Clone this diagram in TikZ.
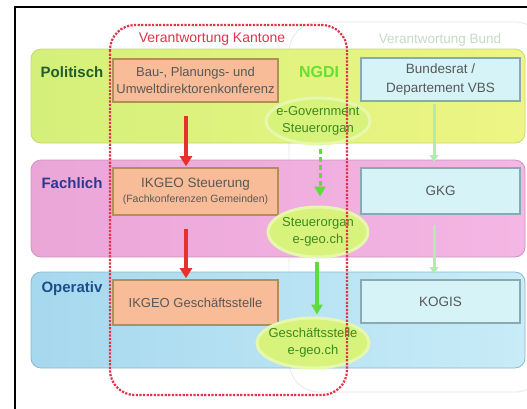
\documentclass[tikz,border=0pt]{standalone}
\usepackage{fontspec}
\setmainfont{Liberation Sans}
\usetikzlibrary{shapes.geometric,arrows.meta}
\definecolor{polL}{HTML}{D4F07A}
\definecolor{polR}{HTML}{EEF584}
\definecolor{polB}{HTML}{C4D870}
\definecolor{fachL}{HTML}{EBA6D8}
\definecolor{fachR}{HTML}{F4B6E4}
\definecolor{fachB}{HTML}{CC94BC}
\definecolor{opL}{HTML}{A6D8EE}
\definecolor{opR}{HTML}{C8ECF8}
\definecolor{opB}{HTML}{8CB8CA}
\definecolor{orF}{HTML}{F8BD98}
\definecolor{orD}{HTML}{B09058}
\definecolor{blF}{HTML}{D6F3F8}
\definecolor{blD}{HTML}{8AAAB2}
\definecolor{txt}{HTML}{585858}
\definecolor{kRed}{HTML}{E0344A}
\definecolor{aRed}{HTML}{E8302E}
\definecolor{gArr}{HTML}{5EDC38}
\definecolor{gLight}{HTML}{B2EAB0}
\definecolor{ellF}{HTML}{D8F37C}
\definecolor{ellG}{HTML}{E6F8AE}
\definecolor{ellT}{HTML}{3C8A1C}
\definecolor{ngdiC}{HTML}{66E033}
\definecolor{bundC}{HTML}{C6DAC6}
\definecolor{polT}{HTML}{1F5E2A}
\definecolor{fachT}{HTML}{2B3990}
\definecolor{opT}{HTML}{1B4F8F}
\tikzset{
  orangebox/.style={draw=orD, line width=1.6pt, fill=orF, align=center, text=txt,
    font=\fontsize{13}{17}\selectfont, minimum width=165pt, inner sep=0pt},
  bluebox/.style={draw=blD, line width=1.6pt, fill=blF, align=center, text=txt,
    font=\fontsize{13.5}{19}\selectfont, minimum width=159pt, inner sep=0pt},
  ell/.style={ellipse, fill=ellF, draw=ellG, line width=3pt, inner sep=0pt},
  elltext/.style={align=center, text=ellT, font=\fontsize{13}{17}\selectfont, inner sep=0pt},
  lvl/.style={font=\fontsize{15}{18}\selectfont\bfseries, inner sep=0pt},
  redarrow/.style={draw=aRed, line width=3.5pt, -{Triangle[width=12pt,length=10pt]}},
  lightarrow/.style={draw=gLight, line width=3pt, -{Triangle[width=8pt,length=7pt]}},
  kantline/.style={draw=kRed, line width=2.2pt, dash pattern=on 2.2pt off 1.4pt, rounded corners=25pt}
}
\begin{document}
\begin{tikzpicture}[x=1pt,y=-1pt]
\useasboundingbox (0,0) rectangle (527,408);
\fill[white] (0,0) rectangle (527,408);
% frame
\draw[line width=2pt] (15,7) rectangle (545,425);
% Bund region
\draw[black!9, line width=0.8pt, rounded corners=30pt] (289,22) rectangle (545,392);
% bands
\shadedraw[left color=polL, right color=polR, draw=polB, line width=0.8pt, rounded corners=10pt] (31,49) rectangle (525,143);
\shadedraw[left color=fachL, right color=fachR, draw=fachB, line width=0.8pt, rounded corners=10pt] (31,160) rectangle (525,257);
\shadedraw[left color=opL, right color=opR, draw=opB, line width=0.8pt, rounded corners=10pt] (31,272) rectangle (525,368);
% level labels
\node[lvl, text=polT] (pl) at (72,72) {Politisch};
\node[lvl, text=fachT] (fl) at (72,183) {Fachlich};
\node[lvl, text=opT] (ol) at (72,289) {Operativ};
% headings
\node[text=kRed, font=\fontsize{14}{16}\selectfont, inner sep=0pt] (kt) at (212,39) {Verantwortung Kantone};
\node[text=bundC, font=\fontsize{13.5}{16}\selectfont, inner sep=0pt] (bt) at (440,40) {Verantwortung Bund};
\node[text=ngdiC, font=\fontsize{16}{18}\selectfont\bfseries, inner sep=0pt] (ng) at (319,72) {NGDI};
% cantonal boxes
\node[orangebox, minimum height=43pt] (bau) at (195.5,80.5) {Bau-, Planungs- und\\Umweltdirektorenkonferenz};
\node[orangebox, minimum height=47pt] (ikst) at (195.5,191.5) {\fontsize{13.5}{18}\selectfont IKGEO Steuerung\\[-2pt]{\fontsize{10.5}{12}\selectfont (Fachkonferenzen Gemeinden)}};
\node[orangebox, minimum height=45pt] (ikgs) at (195.5,302.5) {IKGEO Geschäftsstelle};
% federal boxes
\node[bluebox, minimum height=43pt] (bund) at (440.5,79.5) {Bundesrat /\\Departement VBS};
\node[bluebox, minimum height=46pt] (gkg) at (440.5,191) {GKG};
\node[bluebox, minimum height=43pt] (kogis) at (440.5,301.5) {KOGIS};
% ellipses
\node[ell, minimum width=104pt, minimum height=46pt] (e1) at (318,121) {};
\node[ell, minimum width=100pt, minimum height=50pt] (e2) at (318,232) {};
\node[ell, minimum width=112pt, minimum height=50pt] (e3) at (313,343) {};
\node[elltext] (t1) at (e1) {e-Government\\Steuerorgan};
\node[elltext] (t2) at (e2) {Steuerorgan\\e-geo.ch};
\node[elltext] (t3) at (e3) {Geschäftsstelle\\e-geo.ch};
% cantonal responsibility outline
\draw[kantline] (110,25) rectangle (347,395);
% arrows
\draw[redarrow, shorten <=13pt, shorten >=1pt] ([xshift=-9.5pt]bau.south) -- ([xshift=-9.5pt]ikst.north);
\draw[redarrow, shorten <=13pt, shorten >=1pt] ([xshift=-9.5pt]ikst.south) -- ([xshift=-9.5pt]ikgs.north);
\draw[draw=gArr, line width=3pt, dash pattern=on 5pt off 3pt, -{Triangle[width=11pt,length=10pt]}, shorten <=3pt, shorten >=9pt] ([xshift=2pt]e1.south) -- ([xshift=2pt]e2.north);
\draw[draw=gArr, line width=3.5pt, -{Triangle[width=11pt,length=10pt]}, shorten <=3pt, shorten >=2pt] ([xshift=-1pt]e2.south) -- ([xshift=-1pt]e2.south |- e3.north);
\draw[lightarrow, shorten <=2pt, shorten >=5pt] ([xshift=-6.5pt]bund.south) -- ([xshift=-6.5pt]gkg.north);
\draw[lightarrow, shorten <=10pt, shorten >=5pt] ([xshift=-6.5pt]gkg.south) -- ([xshift=-6.5pt]kogis.north);
\end{tikzpicture}
\end{document}
